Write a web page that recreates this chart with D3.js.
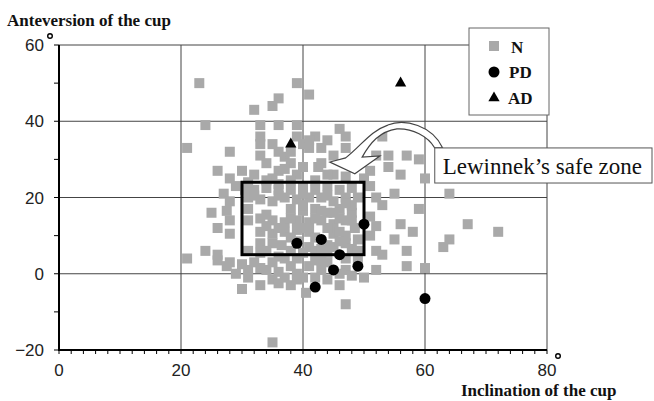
<!DOCTYPE html>
<html>
<head>
<meta charset="utf-8">
<script src="https://cdn.jsdelivr.net/npm/d3@7.9.0/dist/d3.min.js"></script>
<style>
  body { margin: 0; background: #fff; }
  svg { display: block; }
  .tick-label { font-family: "Liberation Sans Narrow", "Arial Narrow", "Liberation Sans", sans-serif; font-size: 17px; fill: #222; }
  .title { font-family: "Liberation Serif", "Times New Roman", serif; font-weight: bold; font-size: 17px; fill: #111; }
  .legend-text { font-family: "Liberation Serif", serif; font-weight: bold; font-size: 17px; fill: #111; }
  .callout-text { font-family: "Liberation Serif", serif; font-size: 23px; fill: #111; }
</style>
</head>
<body>
<svg id="chart" width="654" height="401"></svg>
<script>
// group N: gray squares  [inclination, anteversion]
const nPoints = [
  [23,50],[39,50],[41,47],[36,46],[35,44],[32,43],
  [24,39],[33,39],[36,39],[39,39],
  [33,36],[33,34],[46,38],[47,36],[42,36],[41,35],[40,34],[41,33],
  [21,33],[28,32],[36,32],[37,30.7],[34,29],[38,29],
  [26,27],[28,25],[36,27],[42.5,28],[43,29],[45,31],[45,26],[37,27.5],[35,25],[39,26],[32,26],
  [53,36],[52,31],[54,31],[57,31],[59,30],[54,28],[56,26],[51,27],[60,25],[47,25.5],
  [27,21],[28,19],[27.5,16.5],[28,14],[28,10.5],[21,4],[24,6],[26,5],[26,3.5],[28,3],
  [51,23],[52,20],[53,18],[51,15],[52,12.5],[51,10],[52,6],[53,5],[55,21],[56,13],[58,11],
  [55,9],[57,6],[59,17],[57,2],[60,1.5],[52,1],[64,21],[67,13],[72,11],[64,9],[63,7],[50,-1],
  [30,-4],[31,1],[33,1.5],[35,-1.5],[36,-2.5],[34,1],[36,0.5],[38,2],[37,-1],[30,2.5],[32,3],[27.5,2],
  [41,2],[42,-1],[43,1],[44,-1.5],[40.5,-5],[46,-3],[47,-8],[35,-18],[39,0],[47,1],[48,-0.5],
  [32,22],[34,22.5],[36,22],[38,22],[40,23],[42,22],[44,23],[46,22],[48,22.5],
  [31,20],[33,19.5],[37,20],[39,19.5],[41,20],[43,20],[45,19],[47,20],[49,20],
  [31,17],[38,17],[40,16.5],[42,17],[44,16],[46,17],[48,16],
  [31,14],[33,14.5],[35,14],[37,13.5],[39,14],[41,13.5],[43,14],[45,13],[47,14],[48.5,12],
  [33,11],[35,10.5],[37,11],[39,11.5],[41,11],[45,10.5],[47,10],
  [33,8],[35,8],[36.5,7.5],[41,7],[44,7.5],[47,8],[48,6.5],
  [31,6],[34,6],[38,6],[40,5.5],[42,6],[44,5.5],
  [30.5,22],[35,19],[39,8.5],[42,9.5],[44,12],[46,11],[49,9],[49,6],[48,18],[46,14.5],
  [43,16.5],[40,18],[38,14.5],[36,12],[34,12.5],[33,5.5],[36,4.5],[39,4],[43,3.5],[45,7],
  [47,4],[49,4],[31,24],[34,24.5],[38,24.5],[42,24.5],[44,26],[40,28],[30,27],[33,31],
  [35,34],[38,32],[39,36],[43,33],[44,35],[47,33],[49,29],[50,25],[26,12],[25,16],
  [29,23],[31,-1],[29,0],[33,-3],[38,-3],[39,-1.5],[44,3],[46,0],[42,3.5],[40,-1],
  [35,3],[37,4],[44,20.5],[36,23.5],[40,12],[42,14.5],[45,16],[47,18.5],
  [32,20.5],[36,20.5],[40,21],[34,15.5],[38,9.5],[43,6.5],[46,8.5],[48,14]
];
// group PD: black circles
const pdPoints = [[39,8],[43,9],[50,13],[46,5],[45,1],[49,2],[42,-3.5],[60,-6.5]];
// group AD: black triangles
const adPoints = [[38,34],[56,50]];

const xTicks = [0, 20, 40, 60, 80];
const yTicks = [-20, 0, 20, 40, 60];
const safeZone = { x0: 30, x1: 50, y0: 5, y1: 24 };

const svg = d3.select("#chart");
const x = d3.scaleLinear().domain([0, 80]).range([59, 547]);
const y = d3.scaleLinear().domain([-20, 60]).range([350, 45]);

// grid
svg.append("g").selectAll("line")
  .data(xTicks.slice(1))
  .enter().append("line")
  .attr("x1", d => x(d)).attr("x2", d => x(d))
  .attr("y1", y(-20)).attr("y2", y(60))
  .attr("stroke", "#444").attr("stroke-width", 1);
svg.append("g").selectAll("line")
  .data(yTicks.slice(1))
  .enter().append("line")
  .attr("x1", x(0)).attr("x2", x(80))
  .attr("y1", d => y(d)).attr("y2", d => y(d))
  .attr("stroke", "#444").attr("stroke-width", 1);

// N squares
const sq = 10;
svg.append("g").selectAll("rect")
  .data(nPoints)
  .enter().append("rect")
  .attr("x", d => x(d[0]) - sq / 2)
  .attr("y", d => y(d[1]) - sq / 2)
  .attr("width", sq).attr("height", sq)
  .attr("fill", "#a9a9a9");

// safe zone
svg.append("rect")
  .attr("x", x(safeZone.x0)).attr("y", y(safeZone.y1))
  .attr("width", x(safeZone.x1) - x(safeZone.x0))
  .attr("height", y(safeZone.y0) - y(safeZone.y1))
  .attr("fill", "none").attr("stroke", "#000").attr("stroke-width", 3);

// PD circles
svg.append("g").selectAll("circle")
  .data(pdPoints)
  .enter().append("circle")
  .attr("cx", d => x(d[0])).attr("cy", d => y(d[1]))
  .attr("r", 5.5).attr("fill", "#000");

// AD triangles
const tri = d3.symbol().type(d3.symbolTriangle).size(55);
svg.append("g").selectAll("path")
  .data(adPoints)
  .enter().append("path")
  .attr("d", tri)
  .attr("transform", d => `translate(${x(d[0])},${y(d[1])})`)
  .attr("fill", "#000");

// axes
svg.append("line").attr("x1", x(0)).attr("x2", x(0)).attr("y1", y(-20) + 1).attr("y2", y(60))
  .attr("stroke", "#000").attr("stroke-width", 2);
svg.append("line").attr("x1", x(0) - 1).attr("x2", x(80)).attr("y1", y(-20)).attr("y2", y(-20))
  .attr("stroke", "#000").attr("stroke-width", 2);

svg.append("g").selectAll("line")
  .data(d3.range(0, 81, 2))
  .enter().append("line")
  .attr("x1", d => x(d)).attr("x2", d => x(d))
  .attr("y1", y(-20)).attr("y2", y(-20) + 4)
  .attr("stroke", "#000").attr("stroke-width", 1);
svg.append("g").selectAll("line")
  .data(d3.range(-20, 61, 10))
  .enter().append("line")
  .attr("x1", x(0) - 5).attr("x2", x(0))
  .attr("y1", d => y(d)).attr("y2", d => y(d))
  .attr("stroke", "#000").attr("stroke-width", 1);

svg.append("g").selectAll("text")
  .data(xTicks)
  .enter().append("text")
  .attr("class", "tick-label")
  .attr("x", d => x(d)).attr("y", y(-20) + 26)
  .attr("text-anchor", "middle")
  .text(d => d);
svg.append("g").selectAll("text")
  .data(yTicks)
  .enter().append("text")
  .attr("class", "tick-label")
  .attr("x", x(0) - 15).attr("y", d => y(d) + 6)
  .attr("text-anchor", "end")
  .text(d => d < 0 ? "\u2212" + Math.abs(d) : d);

// degree marks
svg.append("circle").attr("cx", x(0) - 9).attr("cy", y(60) - 9).attr("r", 2.3)
  .attr("fill", "none").attr("stroke", "#000").attr("stroke-width", 1.4);
svg.append("circle").attr("cx", x(80) + 11).attr("cy", y(-20) + 6).attr("r", 2.3)
  .attr("fill", "none").attr("stroke", "#000").attr("stroke-width", 1.4);

// titles
svg.append("text").attr("class", "title").attr("x", 7).attr("y", 26).text("Anteversion of the cup");
svg.append("text").attr("class", "title").attr("x", 461).attr("y", 396).text("Inclination of the cup");

// legend
const lg = svg.append("g").attr("transform", "translate(469,28)");
lg.append("rect").attr("width", 80).attr("height", 87)
  .attr("fill", "#fff").attr("stroke", "#666").attr("stroke-width", 1);
lg.append("rect").attr("x", 20).attr("y", 13).attr("width", 10).attr("height", 10).attr("fill", "#a9a9a9");
lg.append("circle").attr("cx", 25).attr("cy", 44).attr("r", 5.5).attr("fill", "#000");
lg.append("path").attr("d", tri).attr("transform", "translate(25,70)").attr("fill", "#000");
lg.append("text").attr("class", "legend-text").attr("x", 42).attr("y", 25).text("N");
lg.append("text").attr("class", "legend-text").attr("x", 40).attr("y", 50).text("PD");
lg.append("text").attr("class", "legend-text").attr("x", 39).attr("y", 76).text("AD");

// curved arrow (data units)
const arrowPts = [
  [62.9,33.0],[61.2,38.8],[56.7,40.9],[53.9,39.0],[51.0,37.4],[49.7,33.8],[47.0,30.4],
  [44.4,29.3],[48.5,26.2],[52.6,30.9],
  [49.7,30.6],[51.0,34.3],[52.6,37.4],[55.4,38.0],[57.9,38.2],[60.5,36.1],[61.6,33.0]
];
const P = arrowPts.map(d => [x(d[0]), y(d[1])]);
const arrowPath = `M${P[0]} C${P[1]} ${P[2]} ${P[3]} C${P[4]} ${P[5]} ${P[6]} L${P[7]} L${P[8]} L${P[9]} L${P[10]} C${P[11]} ${P[12]} ${P[13]} C${P[14]} ${P[15]} ${P[16]} Z`;
svg.append("path").attr("d", arrowPath)
  .attr("fill", "#fff").attr("stroke", "#444").attr("stroke-width", 1.2);

// callout box
svg.append("rect")
  .attr("x", x(61.6)).attr("y", y(33))
  .attr("width", 652 - x(61.6)).attr("height", y(23.8) - y(33))
  .attr("fill", "#fff").attr("stroke", "#555").attr("stroke-width", 1);
svg.append("text").attr("class", "callout-text")
  .attr("x", x(61.6) + 8).attr("y", y(23.8) - 9)
  .text("Lewinnek\u2019s safe zone");
</script>
</body>
</html>
